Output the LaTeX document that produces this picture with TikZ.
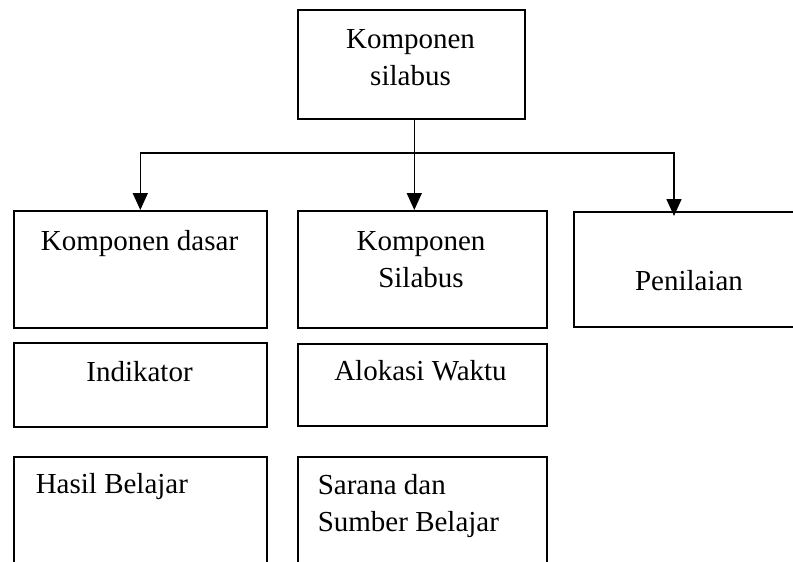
\documentclass[tikz,border=0pt]{standalone}
\usepackage{fontspec}
\setmainfont{Liberation Serif}
\usetikzlibrary{positioning,arrows.meta,calc}

\begin{document}
\begin{tikzpicture}[x=1pt,y=-1pt,line width=1.6pt,
	box/.style={draw,rectangle,inner sep=0pt,anchor=north west},
	lbl/.style={inner sep=0pt,font=\fontsize{29}{37.5}\selectfont}]
	\tikzset{>={Triangle[width=15pt,length=17pt]}}
	\useasboundingbox (0,0) rectangle (793,562);
	\clip (0,0) rectangle (793,562);

	% boxes
	\node[box,minimum width=227pt,minimum height=109pt] (top) at (297,9) {};
	\node[box,minimum width=253pt,minimum height=117pt] (dasar) at (13,210) {};
	\node[box,minimum width=249pt,minimum height=117pt] (silabus) at (297,210) {};
	\node[box,minimum width=240pt,minimum height=115pt] (nilai) at (573,211) {};
	\node[box,minimum width=253pt,minimum height=84pt] (indikator) at (13,342) {};
	\node[box,minimum width=249pt,minimum height=82pt] (alokasi) at (297,343) {};
	\node[box,minimum width=253pt,minimum height=130pt] (hasil) at (13,456) {};
	\node[box,minimum width=249pt,minimum height=130pt] (sarana) at (297,456) {};

	% texts
	\node[lbl,align=center,anchor=north] (topT) at (410.5,28.5) {Komponen\\silabus};
	\node[lbl,anchor=base] (dasarT) at (139.5,250) {Komponen dasar};
	\node[lbl,align=center,anchor=north] (silabusT) at (421,230.5) {Komponen\\Silabus};
	\node[lbl,anchor=base] (nilaiT) at (689,290) {Penilaian};
	\node[lbl,anchor=base] (indikatorT) at (139.5,381) {Indikator};
	\node[lbl,anchor=base] (alokasiT) at (420.5,380) {Alokasi Waktu};
	\node[lbl,anchor=base west] (hasilT) at (35,493) {Hasil Belajar};
	\node[lbl,align=left,anchor=north west] (saranaT) at (317,473.5) {Sarana dan\\Sumber Belajar};

	% connectors
	\coordinate (bar) at (0,153);
	\coordinate (drop) at ([xshift=3pt]top.south);
	\draw[->] (drop) -- (drop |- silabus.north);
	\draw[->] (drop |- bar) -| (dasar.north);
	\draw[->] (drop |- bar) -| ($(nilai.north west)+(101,5)$);
\end{tikzpicture}
\end{document}
